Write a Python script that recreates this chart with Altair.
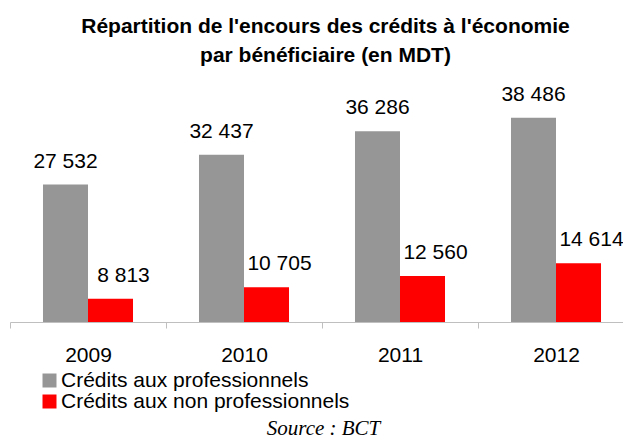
import altair as alt
import pandas as pd

years = ["2009", "2010", "2011", "2012"]
series = ["Crédits aux professionnels", "Crédits aux non professionnels"]
pro = [27532, 32437, 36286, 38486]
nonpro = [8813, 10705, 12560, 14614]
colors = ["#969696", "#ff0000"]

rows = []
for yr, a, b in zip(years, pro, nonpro):
    rows.append({"annee": yr, "serie": series[0], "valeur": a,
                 "label": f"{a:,}".replace(",", " ")})
    rows.append({"annee": yr, "serie": series[1], "valeur": b,
                 "label": f"{b:,}".replace(",", " ")})
df = pd.DataFrame(rows)

FONT = "Liberation Sans"

x = alt.X(
    "annee:N", sort=years,
    scale=alt.Scale(range=[0, 624], paddingInner=0, paddingOuter=0),
    axis=alt.Axis(
        title="Source : BCT", labelAngle=0, labelFontSize=21, labelFont=FONT,
        labelColor="black", labelPadding=16, tickBand="extent", tickSize=6,
        tickColor="#bfbfbf", domainColor="#bfbfbf", ticks=True,
        titleFont="Liberation Serif", titleFontStyle="italic",
        titleFontWeight="normal", titleFontSize=21, titleColor="black",
        titlePadding=52, titleX=313,
    ),
)
xoff = alt.XOffset("serie:N", sort=series,
                   scale=alt.Scale(paddingOuter=0.733, paddingInner=0))
y = alt.Y("valeur:Q", scale=alt.Scale(domain=[5000, 45000], zero=False), axis=None)

base = alt.Chart(df).encode(x=x, xOffset=xoff)

bars = base.mark_bar().encode(
    y=y, y2=alt.datum(5000),
    color=alt.Color(
        "serie:N", sort=series,
        scale=alt.Scale(domain=series, range=colors),
        legend=alt.Legend(
            orient="none", legendX=29, legendY=292, title=None,
            symbolType="square", symbolSize=196, symbolStrokeWidth=0,
            symbolOpacity=1, labelFontSize=21, labelFont=FONT,
            labelColor="black", labelLimit=0, labelOffset=1,
            rowPadding=-3, padding=0,
        ),
    ),
)

t1 = base.mark_text(baseline="alphabetic", dy=-17, fontSize=21, font=FONT,
                    color="black").encode(y=y, text="label:N").transform_filter(
    alt.datum.serie == series[0])
t2 = base.mark_text(baseline="alphabetic", dy=-17, dx=13, fontSize=21, font=FONT,
                    color="black").encode(y=y, text="label:N").transform_filter(
    alt.datum.serie == series[1])

chart = alt.layer(bars, t1, t2).properties(
    width=613, height=244,
    title=alt.Title(
        ["Répartition de l'encours des crédits à l'économie",
         "par bénéficiaire (en MDT)"],
        fontSize=21, font=FONT, fontWeight="bold", anchor="middle",
        lineHeight=29, color="black", offset=15, dx=9, dy=3,
    ),
    padding={"left": 2, "top": 70, "right": 0, "bottom": 116},
    autosize=alt.AutoSizeParams(type="none"),
).configure_view(stroke=None)

chart.save("out.html", embed_options={"renderer": "svg", "actions": False})
